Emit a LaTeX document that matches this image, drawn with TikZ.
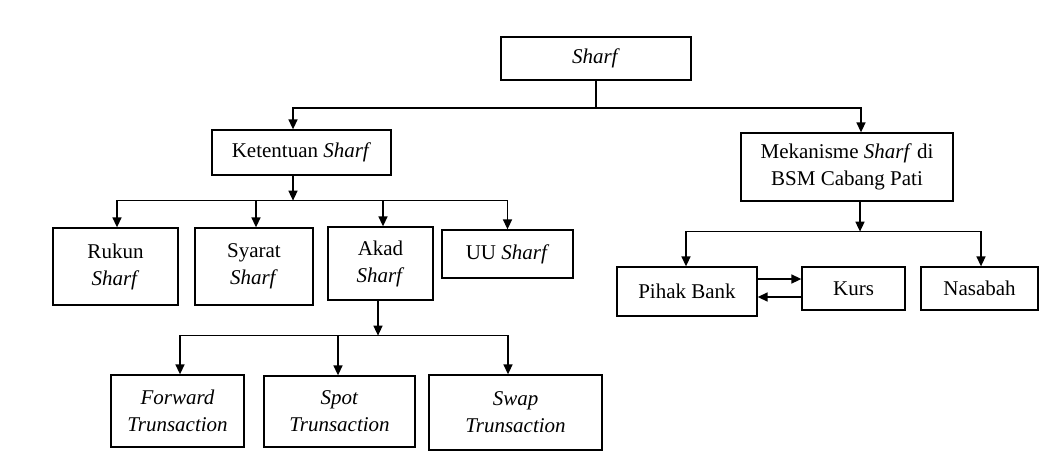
\documentclass[tikz,border=0pt]{standalone}
\usepackage{fontspec}
\setmainfont{Liberation Serif}
\usetikzlibrary{arrows.meta}
\tikzset{
  box/.style={draw, line width=1.3pt, inner sep=0pt, align=center,
              font=\fontsize{21}{27}\selectfont},
  conn/.style={line width=1.5pt},
  arr/.style={conn, -{Triangle[length=10pt,width=9pt]}},
}
\begin{document}
\begin{tikzpicture}[x=1pt,y=-1pt]
\fill[white] (0,0) rectangle (1057,466);
\useasboundingbox (0,0) rectangle (1057,466);

% top level
\node[box, minimum width=190pt, minimum height=43pt] (sharf) at (596,58.5) {\textit{Sharf}};

% second level
\node[box, minimum width=179pt, minimum height=45pt] (ket) at (301.5,152.5) {Ketentuan \textit{Sharf}};
\node[box, minimum width=212pt, minimum height=68pt] (mek) at (847,167) {Mekanisme \textit{Sharf} di\\BSM Cabang Pati};

% provisions
\node[box, minimum width=125pt, minimum height=77pt] (rukun) at (115.5,266.5) {Rukun\\\textit{Sharf}};
\node[box, minimum width=118pt, minimum height=77pt] (syarat) at (254,266.5) {Syarat\\\textit{Sharf}};
\node[box, minimum width=105pt, minimum height=73pt] (akad) at (380.5,263.5) {Akad\\\textit{Sharf}};
\node[box, minimum width=131pt, minimum height=48pt] (uu) at (507.5,254) {UU \textit{Sharf}};

% contract types
\node[box, minimum width=133pt, minimum height=72pt] (fwd) at (177.5,411) {\textit{Forward}\\\textit{Trunsaction}};
\node[box, minimum width=151pt, minimum height=71pt] (spot) at (339.5,411.5) {\textit{Spot}\\\textit{Trunsaction}};
\node[box, minimum width=173pt, minimum height=75pt] (swap) at (515.5,412.5) {\textit{Swap}\\\textit{Trunsaction}};

% mechanism parties
\node[box, minimum width=140pt, minimum height=49pt] (pihak) at (687,291.5) {Pihak Bank};
\node[box, minimum width=103pt, minimum height=43pt] (kurs) at (853.5,288.5) {Kurs};
\node[box, minimum width=117pt, minimum height=43pt] (nasabah) at (979.5,288.5) {Nasabah};

% Sharf -> two branches
\draw[conn] (sharf.south) -- ++(0,27.5) coordinate (busA);
\draw[arr] (busA) -| ([xshift=-8.5pt]ket.north);
\draw[arr] (busA) -| ([xshift=14pt]mek.north);

% Ketentuan -> four provisions
\draw[arr] ([xshift=-8.5pt]ket.south) -- ++(0,25) coordinate (busB);
\draw[arr] (busB) -| ([xshift=1.5pt]rukun.north);
\draw[arr] (busB) -| ([xshift=2pt]syarat.north);
\draw[arr] (busB) -| ([xshift=2.5pt]akad.north);
\draw[arr] (busB) -| (uu.north);

% Akad -> three transaction types
\draw[arr] ([xshift=-2.5pt]akad.south) -- ++(0,35) coordinate (busC);
\draw[arr] (busC) -| ([xshift=2.5pt]fwd.north);
\draw[arr] (busC) -| ([xshift=-1.5pt]spot.north);
\draw[arr] (busC) -| ([xshift=-7.5pt]swap.north);

% Mekanisme -> parties
\draw[arr] ([xshift=13pt]mek.south) -- ++(0,30) coordinate (busD);
\draw[arr] (busD) -| ([xshift=-1pt]pihak.north);
\draw[arr] (busD) -| ([xshift=1.5pt]nasabah.north);

% exchange between bank and rate
\draw[arr] ([yshift=12.5pt]pihak.east) -- ([yshift=12.5pt]pihak.east -| kurs.west);
\draw[arr] ([yshift=-5.5pt]pihak.east -| kurs.west) -- ([yshift=-5.5pt]pihak.east);
\end{tikzpicture}
\end{document}
